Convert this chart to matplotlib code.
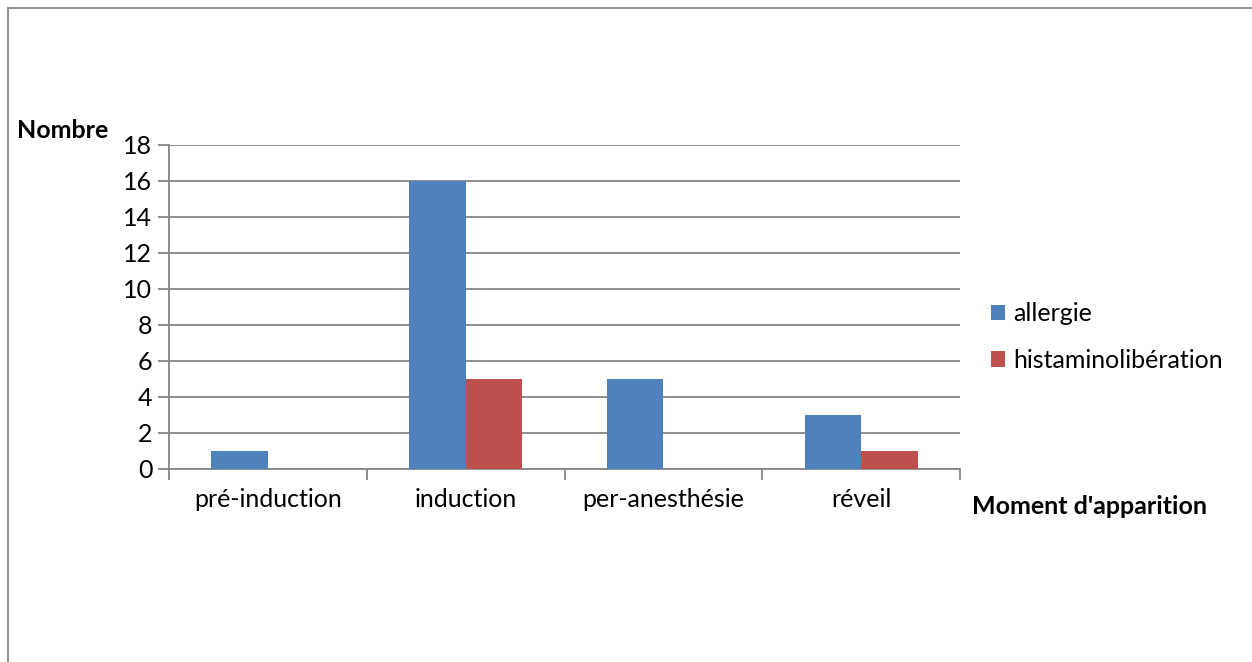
import matplotlib
matplotlib.use("Agg")
import matplotlib.pyplot as plt
from matplotlib.lines import Line2D
import numpy as np

categories = ["pré-induction", "induction", "per-anesthésie", "réveil"]
series_names = ["allergie", "histaminolibération"]
allergie = [1, 16, 5, 3]
histamino = [0, 5, 0, 1]
y_ticks = [0, 2, 4, 6, 8, 10, 12, 14, 16, 18]

BLUE = "#4F81BD"
RED = "#C0504D"
GRID = "#868686"
FONT = "Lato"
FS = 18

W, H = 1252, 662
fig = plt.figure(figsize=(W / 100, H / 100), dpi=100)

# chart frame: left and top edges
fig.lines.append(Line2D([7.5 / W, 7.5 / W], [0, 1 - 7.5 / H], transform=fig.transFigure,
                        color="#888888", linewidth=1.3))
fig.lines.append(Line2D([7.5 / W, 1], [1 - 7.5 / H, 1 - 7.5 / H], transform=fig.transFigure,
                        color="#888888", linewidth=1.3))

ax = fig.add_axes([169 / W, 1 - 469 / H, (960 - 169) / W, (469 - 145) / H])

x = np.arange(len(categories))
bw = 1 / 3.5
ax.bar(x - bw / 2, allergie, width=bw, color=BLUE, label=series_names[0], zorder=3)
ax.bar(x + bw / 2, histamino, width=bw, color=RED, label=series_names[1], zorder=3)

ax.set_xlim(-0.5, len(categories) - 0.5)
ax.set_ylim(0, 18)
ax.set_yticks(y_ticks)
ax.set_yticklabels([str(v) for v in y_ticks], fontfamily=FONT, fontsize=FS)
ax.yaxis.grid(True, color=GRID, linewidth=1.3, zorder=0)
ax.set_axisbelow(True)

ax.set_xticks(x)
ax.set_xticklabels(categories, fontfamily=FONT, fontsize=FS)
ax.tick_params(axis="x", length=0, pad=14)
ax.tick_params(axis="y", length=8, width=1.3, color=GRID, pad=4)
# category boundary ticks
ax.set_xticks(np.arange(-0.5, len(categories)), minor=True)
ax.tick_params(axis="x", which="minor", length=8, width=1.3, color=GRID, direction="out")

for side in ["top", "right"]:
    ax.spines[side].set_visible(False)
for side in ["left", "bottom"]:
    ax.spines[side].set_color(GRID)
    ax.spines[side].set_linewidth(1.3)

fig.text(17 / W, 1 - 131 / H, "Nombre", fontfamily=FONT, fontweight="bold",
         fontsize=FS, va="center", ha="left")
fig.text(972 / W, 1 - 506 / H, "Moment d'apparition", fontfamily=FONT, fontweight="bold",
         fontsize=FS, va="center", ha="left")

leg = fig.legend(loc="center left", bbox_to_anchor=(991 / W, 1 - 337 / H), frameon=False,
                 prop={"family": FONT, "size": FS}, handlelength=0.56, handleheight=0.56,
                 handletextpad=0.32, labelspacing=0.95, borderaxespad=0, borderpad=0)

fig.savefig("out.png", dpi=100)
